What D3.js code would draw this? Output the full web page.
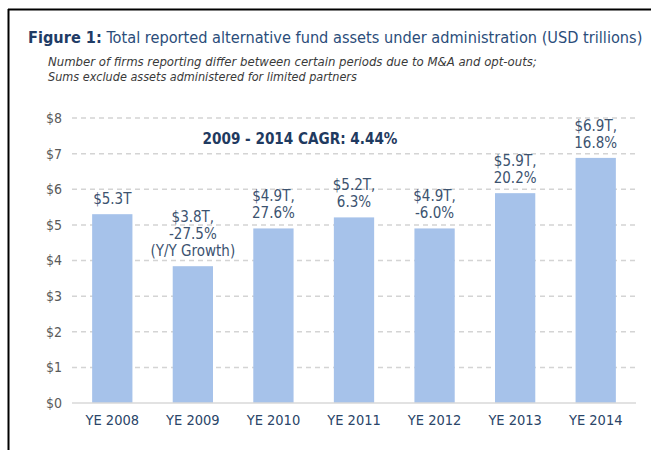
<!DOCTYPE html>
<html>
<head>
<meta charset="utf-8">
<script src="https://cdn.jsdelivr.net/npm/d3@7"></script>
<style>
	body { margin: 0; background: #ffffff; }
	svg { display: block; }
</style>
</head>
<body>
<svg id="chart" width="651" height="450"></svg>
<script>
//Chart data
const YEARS = ["YE 2008", "YE 2009", "YE 2010", "YE 2011", "YE 2012", "YE 2013", "YE 2014"];
const ASSETS = [5.3, 3.84, 4.9, 5.21, 4.9, 5.89, 6.88];
const BAR_LABELS = [
	["$5.3T"],
	["$3.8T,", "-27.5%", "(Y/Y Growth)"],
	["$4.9T,", "27.6%"],
	["$5.2T,", "6.3%"],
	["$4.9T,", "-6.0%"],
	["$5.9T,", "20.2%"],
	["$6.9T,", "16.8%"]
];
const Y_TICKS = [0, 1, 2, 3, 4, 5, 6, 7, 8];
const TITLE_BOLD = "Figure 1:";
const TITLE_REST = " Total reported alternative fund assets under administration (USD trillions)";
const SUBTITLE = ["Number of firms reporting differ between certain periods due to M&A and opt-outs;", "Sums exclude assets administered for limited partners"];
const CAGR_TEXT = "2009 - 2014 CAGR: 4.44%";

const FONT = "Tahoma, 'DejaVu Sans Condensed', 'DejaVu Sans', sans-serif";
const PLOT_LEFT = 72;
const PLOT_RIGHT = 636;
const PLOT_TOP = 118;
const PLOT_BOTTOM = 403;
const LINE_HEIGHT = 17;

const svg = d3.select("#chart");

//Scale a text's font size so that it takes the given width
function fit_width(sel, width)
{
	const node = sel.node();
	const size = parseFloat(sel.attr("font-size"));
	const w = node.getComputedTextLength();
	if (w > 0)
		sel.attr("font-size", (size * width / w).toFixed(2));
	return sel;
}

//Frame lines (top and left)
svg.append("line")
	.attr("x1", 8).attr("y1", 9.5).attr("x2", 651).attr("y2", 9.5)
	.attr("stroke", "#000").attr("stroke-width", 2);
svg.append("line")
	.attr("x1", 8.5).attr("y1", 9).attr("x2", 8.5).attr("y2", 450)
	.attr("stroke", "#000").attr("stroke-width", 2);

//Title
const title = svg.append("text")
	.attr("x", 28).attr("y", 43)
	.attr("font-family", FONT).attr("font-size", 16);
title.append("tspan").attr("font-weight", "bold").attr("fill", "#1f3c66").text(TITLE_BOLD);
title.append("tspan").attr("fill", "#2b4d7a").text(TITLE_REST);
fit_width(title, 615);

//Subtitle
const SUBTITLE_WIDTHS = [489, 309];
svg.selectAll(".subtitle")
	.data(SUBTITLE)
	.enter()
	.append("text")
	.attr("class", "subtitle")
	.attr("x", 48)
	.attr("y", (d, i) => 66 + i * 15)
	.attr("font-family", FONT)
	.attr("font-size", 11)
	.attr("font-style", "italic")
	.attr("fill", "#3a3a3a")
	.text(d => d)
	.each(function (d, i) { fit_width(d3.select(this), SUBTITLE_WIDTHS[i]); });

//Scales
const x = d3.scaleBand()
	.domain(YEARS)
	.range([PLOT_LEFT, PLOT_RIGHT])
	.paddingInner(0.5)
	.paddingOuter(0.25);
const y = d3.scaleLinear()
	.domain([0, 8])
	.range([PLOT_BOTTOM, PLOT_TOP]);

//Gridlines
svg.selectAll(".grid")
	.data(Y_TICKS.filter(d => d > 0))
	.enter()
	.append("line")
	.attr("class", "grid")
	.attr("x1", PLOT_LEFT).attr("x2", PLOT_RIGHT)
	.attr("y1", d => y(d)).attr("y2", d => y(d))
	.attr("stroke", "#d4d4d4")
	.attr("stroke-width", 1.5)
	.attr("stroke-dasharray", "5,4");

//Y axis labels
const yAxis = svg.append("g")
	.attr("transform", "translate(" + (PLOT_LEFT - 10) + ",0)")
	.call(d3.axisLeft(y).tickValues(Y_TICKS).tickSize(0).tickPadding(0).tickFormat(d => "$" + d));
yAxis.select(".domain").remove();
yAxis.selectAll("text")
	.attr("font-family", FONT)
	.attr("font-size", 14)
	.attr("fill", "#5a5a5a");

//Bars
svg.selectAll(".bar")
	.data(ASSETS)
	.enter()
	.append("rect")
	.attr("class", "bar")
	.attr("x", (d, i) => x(YEARS[i]))
	.attr("y", d => y(d))
	.attr("width", x.bandwidth())
	.attr("height", d => PLOT_BOTTOM - y(d))
	.attr("fill", "#a6c2ea");

//Baseline
svg.append("line")
	.attr("x1", PLOT_LEFT).attr("x2", PLOT_RIGHT)
	.attr("y1", y(0)).attr("y2", y(0))
	.attr("stroke", "#d9d9d9")
	.attr("stroke-width", 1.5);

//X axis labels
const xAxis = svg.append("g")
	.attr("transform", "translate(0," + (PLOT_BOTTOM + 12) + ")")
	.call(d3.axisBottom(x).tickSize(0).tickPadding(0));
xAxis.select(".domain").remove();
xAxis.selectAll("text")
	.attr("font-family", FONT)
	.attr("font-size", 14.5)
	.attr("fill", "#2a4568");

//Value labels above the bars
svg.selectAll(".bar_label")
	.data(BAR_LABELS)
	.enter()
	.append("text")
	.attr("class", "bar_label")
	.attr("text-anchor", "middle")
	.attr("font-family", FONT)
	.attr("font-size", 15)
	.attr("fill", "#3c5370")
	.each(function (lines, i)
	{
		const cx = x(YEARS[i]) + x.bandwidth() / 2;
		const base = y(ASSETS[i]) - 10 - (lines.length - 1) * LINE_HEIGHT;
		d3.select(this).selectAll("tspan")
			.data(lines)
			.enter()
			.append("tspan")
			.attr("x", cx)
			.attr("y", (d, j) => base + j * LINE_HEIGHT)
			.text(d => d);
	});

//CAGR annotation
const cagr = svg.append("text")
	.attr("x", 300).attr("y", 144)
	.attr("text-anchor", "middle")
	.attr("font-family", FONT)
	.attr("font-size", 14)
	.attr("font-weight", "bold")
	.attr("fill", "#1f3a60")
	.text(CAGR_TEXT);
fit_width(cagr, 195);
</script>
</body>
</html>
